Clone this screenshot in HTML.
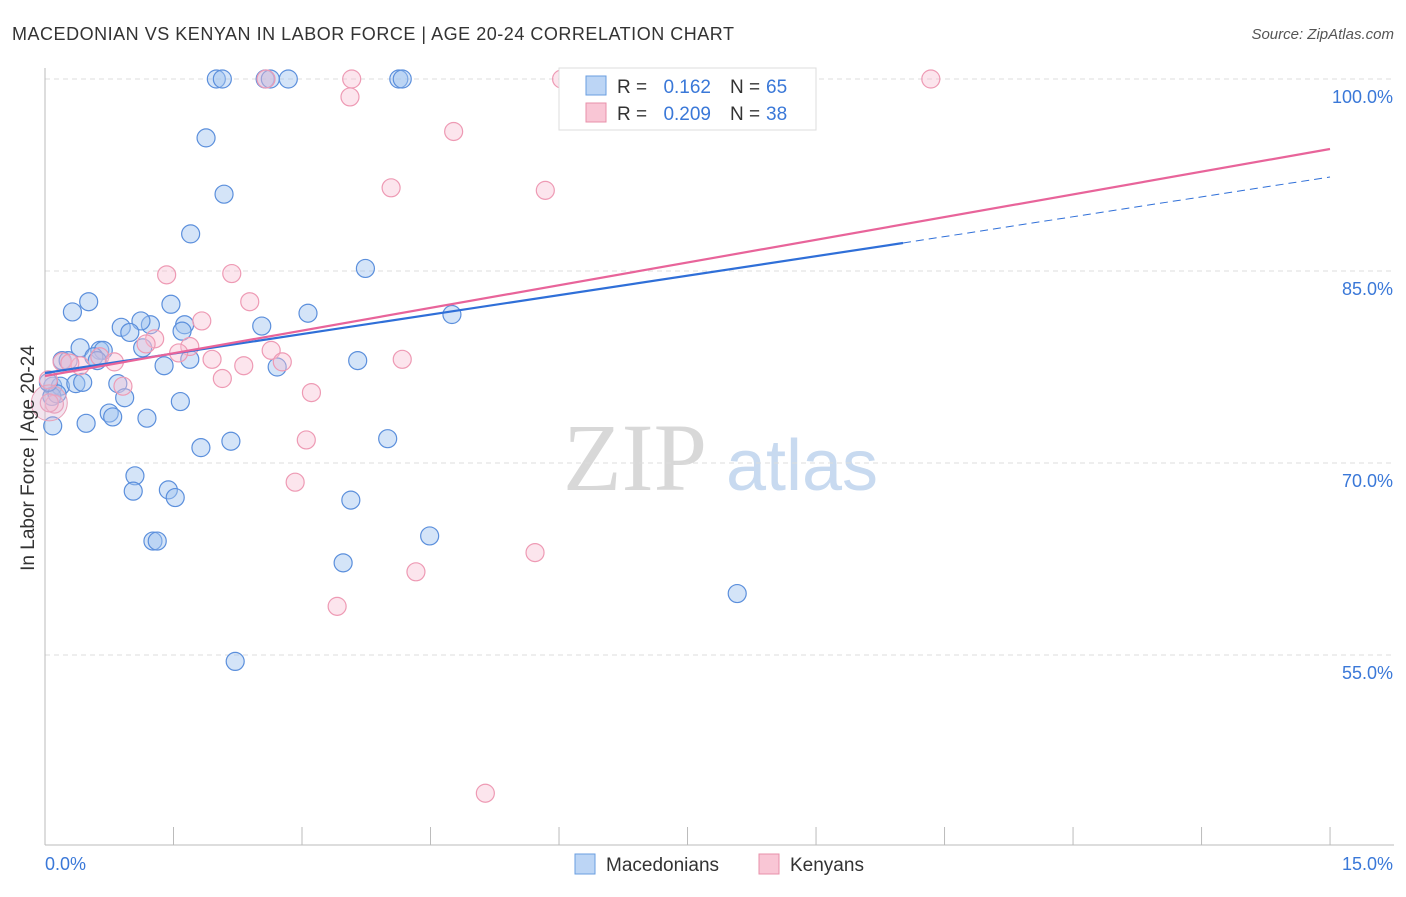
<!DOCTYPE html>
<html><head><meta charset="utf-8"><style>
body{margin:0;background:#fff;font-family:"Liberation Sans",sans-serif}
</style></head><body>
<svg width="1406" height="892" xmlns="http://www.w3.org/2000/svg" id="chart">
<text x="12" y="40" font-size="18" textLength="722" fill="#333">MACEDONIAN VS KENYAN IN LABOR FORCE | AGE 20-24 CORRELATION CHART</text>
<text x="1394" y="39" font-size="15" fill="#555" font-style="italic" text-anchor="end">Source: ZipAtlas.com</text>
<text x="635" y="490" font-size="96" fill="#d8d8d8" font-family="Liberation Serif,serif" text-anchor="middle">ZIP</text>
<text x="802" y="490" font-size="72" fill="#c8daf0" text-anchor="middle">atlas</text>
<g id="grid"></g><g id="axes"></g><g id="pts"></g><g id="lines"></g>
<text transform="translate(34,458) rotate(-90)" font-size="19" fill="#333" text-anchor="middle">In Labor Force | Age 20-24</text>
<g>
<rect x="559" y="68" width="257" height="62" fill="#fff" stroke="#ddd"/>
<rect x="586" y="76" width="20" height="19" fill="#bcd5f5" stroke="#6a9ee0"/>
<rect x="586" y="103" width="20" height="19" fill="#f9c6d5" stroke="#e890aa"/>
<text x="617" y="93" font-size="19" fill="#333">R =</text>
<text x="711" y="93" font-size="19" fill="#3a78d8" text-anchor="end">0.162</text>
<text x="730" y="93" font-size="19" fill="#333">N =</text>
<text x="766" y="93" font-size="19" fill="#3a78d8">65</text>
<text x="617" y="120" font-size="19" fill="#333">R =</text>
<text x="711" y="120" font-size="19" fill="#3a78d8" text-anchor="end">0.209</text>
<text x="730" y="120" font-size="19" fill="#333">N =</text>
<text x="766" y="120" font-size="19" fill="#3a78d8">38</text>
</g>
<g>
<rect x="575" y="854" width="20" height="20" fill="#bcd5f5" stroke="#6a9ee0"/>
<text x="606" y="871" font-size="19" fill="#333">Macedonians</text>
<rect x="759" y="854" width="20" height="20" fill="#f9c6d5" stroke="#e890aa"/>
<text x="790" y="871" font-size="19" fill="#333">Kenyans</text>
</g>
</svg>
<script>
const yTicks=[100,85,70,55];
const xTickLabels=["0.0%","15.0%"];
const blueX=[2.0,2.07,2.57,2.63,2.84,4.13,4.17,8.23,1.88,2.09,1.7,3.74,0.51,0.32,1.47,3.07,4.75,0.89,1.23,1.63,2.53,1.12,0.99,1.6,0.2,0.27,0.41,0.64,0.68,0.57,0.61,1.14,1.69,1.39,3.65,2.71,0.09,0.18,0.36,0.44,0.85,0.93,0.75,0.79,1.58,1.19,0.09,0.48,2.17,1.82,4.0,1.05,1.03,1.44,1.52,3.57,1.26,1.31,4.49,3.48,8.08,2.22,0.08,0.14,0.04];
const blueY=[100,100,100,100,100,100,100,100,95.4,91.0,87.9,85.2,82.6,81.8,82.4,81.7,81.6,80.6,80.8,80.8,80.7,81.1,80.2,80.3,78.0,78.0,79.0,78.8,78.8,78.3,78.0,79.0,78.1,77.6,78.0,77.5,76.0,76.0,76.2,76.3,76.2,75.1,73.9,73.6,74.8,73.5,72.9,73.1,71.7,71.2,71.9,69.0,67.8,67.9,67.3,67.1,63.9,63.9,64.3,62.2,59.8,54.5,75.2,75.4,76.3];
const pinkX=[2.58,3.58,6.03,10.34,3.56,4.77,4.04,5.84,1.42,2.18,2.39,1.83,1.28,1.69,1.18,1.56,0.2,0.64,0.81,1.95,2.32,2.64,2.77,2.07,0.91,0.11,0.05,0.04,3.11,3.05,2.92,4.17,5.72,4.33,3.41,5.14,0.41,0.29];
const pinkY=[100,100,100,100,98.6,95.9,91.5,91.3,84.7,84.8,82.6,81.1,79.7,79.1,79.3,78.6,77.9,78.3,77.9,78.1,77.6,78.8,77.9,76.6,76.0,74.6,74.7,76.5,75.5,71.8,68.5,78.1,63.0,61.5,58.8,44.2,77.6,77.8];
const NS="http://www.w3.org/2000/svg";
const X0=45,PX=85.67,Y0=79,PY=12.8;
const sx=v=>X0+v*PX, sy=v=>Y0+(100-v)*PY;
function mk(t,a,p){const e=document.createElementNS(NS,t);for(const k in a)e.setAttribute(k,a[k]);document.getElementById(p).appendChild(e);return e;}
yTicks.forEach(v=>{
 const l=mk('line',{x1:45,x2:1394,y1:sy(v),y2:sy(v),stroke:'#ddd','stroke-dasharray':'5,4'},'grid');
 
 
 const t=mk('text',{x:1393,y:sy(v)+24,'font-size':18,fill:'#3a78d8','text-anchor':'end'},'grid');t.textContent=v.toFixed(1)+'%';
 
 
});
mk('line',{x1:45,x2:45,y1:68,y2:845,stroke:'#bbb'},'axes');
mk('line',{x1:45,x2:1394,y1:845,y2:845,stroke:'#bbb'},'axes');
for(let i=0;i<=10;i++){mk('line',{x1:sx(i*1.5),x2:sx(i*1.5),y1:827,y2:845,stroke:'#bbb'},'axes');}
const xl1=mk('text',{x:45,y:870,'font-size':18,fill:'#3a78d8'},'axes');xl1.textContent=xTickLabels[0];


const xl2=mk('text',{x:1393,y:870,'font-size':18,fill:'#3a78d8','text-anchor':'end'},'axes');xl2.textContent=xTickLabels[1];


blueX.forEach((x,i)=>{const c=mk('circle',{cx:sx(x),cy:sy(blueY[i]),r:9,fill:'rgba(160,195,240,0.45)',stroke:'#5b8fdc','stroke-width':1.2},'pts');
 
 });
pinkX.forEach((x,i)=>{const c=mk('circle',{cx:sx(x),cy:sy(pinkY[i]),r:9,fill:'rgba(248,190,210,0.4)',stroke:'#ee9ab4','stroke-width':1.2},'pts');
 
 });
const a=mk('circle',{cx:sx(0.05),cy:sy(74.7),r:18,fill:'rgba(220,180,210,0.35)',stroke:'#e8a0b8'},'pts');


const bl=mk('line',{x1:45,y1:373,x2:903,y2:243,stroke:'#2f6fd8','stroke-width':2.2},'lines');


const bd=mk('line',{x1:903,y1:243,x2:1330,y2:177,stroke:'#2f6fd8','stroke-width':1,'stroke-dasharray':'8,5'},'lines');


const pl=mk('line',{x1:45,y1:376,x2:1330,y2:149,stroke:'#e8649a','stroke-width':2.2},'lines');


</script>
</body></html>
